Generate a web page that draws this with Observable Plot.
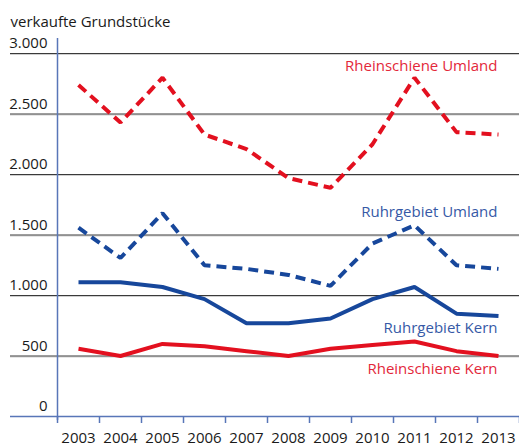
<!DOCTYPE html>
<html>
<head>
<meta charset="utf-8">
<script src="https://cdn.jsdelivr.net/npm/d3@7"></script>
<script src="https://cdn.jsdelivr.net/npm/@observablehq/plot@0.6"></script>
<style>
  html, body { margin: 0; padding: 0; background: #fff; }
  svg { display: block; }
</style>
</head>
<body>
<div id="chart"></div>
<script>
const years = [2003, 2004, 2005, 2006, 2007, 2008, 2009, 2010, 2011, 2012, 2013];
const rheinschieneUmland = [2740, 2430, 2800, 2330, 2210, 1970, 1890, 2250, 2800, 2350, 2330];
const ruhrgebietUmland   = [1560, 1310, 1680, 1250, 1220, 1170, 1080, 1430, 1580, 1250, 1220];
const ruhrgebietKern     = [1110, 1110, 1070, 970, 770, 770, 810, 970, 1070, 850, 830];
const rheinschieneKern   = [560, 500, 600, 580, 540, 500, 560, 590, 620, 540, 500];
const yTicks = [0, 500, 1000, 1500, 2000, 2500, 3000];
const yTitle = "verkaufte Grundstücke";
const seriesNames = ["Rheinschiene Umland", "Ruhrgebiet Umland", "Ruhrgebiet Kern", "Rheinschiene Kern"];

const RED = "#e3101f";
const BLUE = "#17479b";
const AXIS = "#5876b8";
const LABEL_BLUE = "#3659a6";
const LABEL_RED = "#e3283a";

const series = [
  {name: seriesNames[0], values: rheinschieneUmland, color: RED, dash: "10,6", labelColor: LABEL_RED, dy: -68},
  {name: seriesNames[1], values: ruhrgebietUmland, color: BLUE, dash: "10,6", labelColor: LABEL_BLUE, dy: -57},
  {name: seriesNames[2], values: ruhrgebietKern, color: BLUE, dash: null, labelColor: LABEL_BLUE, dy: 12},
  {name: seriesNames[3], values: rheinschieneKern, color: RED, dash: null, labelColor: LABEL_RED, dy: 13}
];

const de = d3.formatLocale({decimal: ",", thousands: ".", grouping: [3], currency: ["", " €"]});
const fmt = de.format(",");

const boundaries = years.map(y => y - 0.5).concat([years[years.length - 1] + 0.5]);
const gridTicks = yTicks.filter(v => v > 0);

const marks = [
  // gridlines
  Plot.ruleY(gridTicks, {stroke: "#d0d0d0", strokeWidth: 1, dy: 1, insetLeft: -47}),
  Plot.ruleY(gridTicks, {stroke: "#3a3a3a", strokeWidth: 1, insetLeft: -47}),
  // y tick labels
  Plot.axisY(yTicks, {tickSize: 0, tickPadding: 10, dy: -10, tickFormat: fmt, fill: "#1a1a1a", fontSize: 15, label: null}),
  // x ticks and labels
  Plot.axisX(boundaries, {tickSize: 7, tickFormat: () => "", stroke: AXIS, strokeWidth: 1.5, label: null}),
  Plot.axisX(years, {tickSize: 0, tickPadding: 16, tickFormat: d => String(d), fill: "#1a1a1a", fontSize: 15, label: null}),
  // axes lines
  Plot.ruleY([0], {stroke: AXIS, strokeWidth: 1.5, insetLeft: -47}),
  Plot.ruleX([boundaries[0]], {stroke: AXIS, strokeWidth: 1.5, insetTop: -15, insetBottom: -4}),
  // title
  Plot.text([yTitle], {frameAnchor: "top-left", dx: -47, dy: -31, textAnchor: "start", lineAnchor: "middle", fontSize: 15, fill: "#1a1a1a"})
];

for (const s of series) {
  const data = years.map((yr, i) => ({year: yr, value: s.values[i]}));
  marks.push(Plot.line(data, {
    x: "year", y: "value", stroke: s.color, strokeWidth: 4,
    strokeDasharray: s.dash || undefined, strokeLinejoin: "miter", strokeLinecap: "butt"
  }));
  marks.push(Plot.text([data[data.length - 1]], {
    x: "year", y: "value", text: () => s.name, textAnchor: "end", dx: -1, dy: s.dy,
    fill: s.labelColor, fontSize: 15, lineAnchor: "middle"
  }));
}

const chart = Plot.plot({
  width: 519,
  height: 448,
  marginLeft: 57,
  marginRight: 0,
  marginTop: 53,
  marginBottom: 32,
  style: {fontFamily: "'Open Sans', 'Noto Sans', sans-serif", fontSize: "15px", background: "#fff"},
  x: {type: "linear", domain: [boundaries[0], boundaries[boundaries.length - 1]], axis: null},
  y: {domain: [0, 3000], axis: null},
  marks
});
document.getElementById("chart").appendChild(chart);
</script>
</body>
</html>
